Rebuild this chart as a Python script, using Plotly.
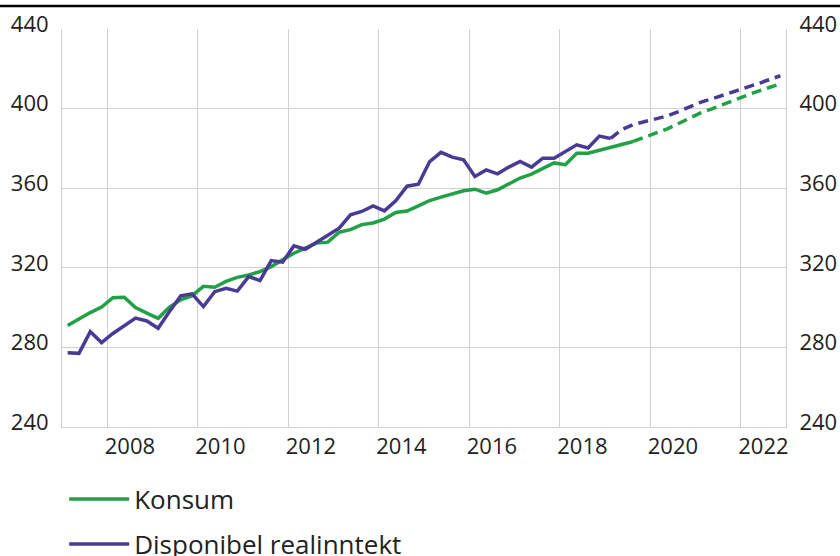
import plotly.graph_objects as go

# ---- data (quarterly, 2007K1 .. 2022K4) ----
start_year = 2007
quarters = [f"{start_year + k // 4}K{k % 4 + 1}" for k in range(64)]

konsum = [291.0, 294.5, 297.5, 300.3, 305.0, 305.2, 300.0, 297.2, 294.6, 300.3,
          303.9, 306.0, 310.7, 310.2, 313.2, 315.2, 316.4, 318.1, 320.6, 324.0,
          327.3, 329.9, 332.4, 332.9, 337.9, 339.2, 341.7, 342.5, 344.5, 347.8,
          348.5, 351.1, 353.8, 355.5, 357.2, 358.7, 359.5, 357.5, 359.2, 362.2,
          365.1, 367.1, 370.1, 372.7, 371.8, 377.6, 377.6, 379.0, 380.7, 382.0,
          383.5, 385.5, 387.5, 389.8, 392.5, 395.5, 398.0, 400.0, 402.3, 404.5,
          406.6, 408.7, 410.6, 412.4]
inntekt = [277.3, 277.0, 287.9, 282.4, 287.0, 290.8, 294.7, 293.3, 289.6, 298.0,
           305.9, 306.9, 300.5, 308.0, 309.7, 308.3, 315.6, 313.6, 323.6, 322.8,
           331.0, 329.3, 332.8, 336.5, 339.9, 346.6, 348.3, 351.1, 348.6, 353.7,
           361.0, 362.0, 373.4, 378.0, 375.6, 374.3, 365.9, 369.2, 367.2, 370.6,
           373.4, 370.6, 375.1, 375.1, 378.5, 381.8, 380.2, 386.2, 385.0, 389.5,
           392.0, 393.5, 395.0, 396.3, 398.5, 401.0, 403.3, 405.0, 406.8, 408.7,
           410.5, 412.5, 414.5, 416.5]
konsum_last_actual = "2019K3"
inntekt_last_actual = "2019K1"

y_ticks = [240, 280, 320, 360, 400, 440]
x_label_years = [2008, 2010, 2012, 2014, 2016, 2018, 2020, 2022]

# ---- helpers ----
def qpos(q):
    y, k = q.split("K")
    return int(y) + (int(k) - 0.5) / 4

xs = [qpos(q) for q in quarters]
GREEN = "#21a047"
PURPLE = "#4a3a96"
FONT = "Open Sans"

fig = go.Figure()

def add_series(name, vals, last_actual, color, group):
    cut = quarters.index(last_actual)
    fig.add_trace(go.Scatter(x=xs[:cut + 1], y=vals[:cut + 1], mode="lines", name=name,
                             line=dict(color=color, width=3.5), legendgroup=group))
    fig.add_trace(go.Scatter(x=xs[cut:], y=vals[cut:], mode="lines", name=name,
                             line=dict(color=color, width=3.5, dash="10px,6px"),
                             legendgroup=group, showlegend=False))

add_series("Konsum", konsum, konsum_last_actual, GREEN, "k")
add_series("Disponibel realinntekt", inntekt, inntekt_last_actual, PURPLE, "d")

# invisible trace to carry the right-hand axis
fig.add_trace(go.Scatter(x=xs, y=konsum, yaxis="y2", mode="lines", opacity=0,
                         showlegend=False, hoverinfo="skip"))

ML, MR, MT, MB = 62, 54, 29, 129
W, H = 840, 556
pw, ph = W - ML - MR, H - MT - MB

grid = "#cfcfcf"
tickfont = dict(family=FONT, size=22, color="#222222")

fig.update_layout(
    width=W, height=H,
    margin=dict(l=ML, r=MR, t=MT, b=MB, autoexpand=False),
    paper_bgcolor="white", plot_bgcolor="white",
    font=dict(family=FONT, color="#222222"),
    xaxis=dict(range=[start_year, start_year + 16], tickmode="array",
               tickvals=[y + 0.5 for y in x_label_years],
               ticktext=[str(y) for y in x_label_years],
               showgrid=False, zeroline=False, ticks="", tickfont=tickfont,
               showline=True, linecolor=grid, linewidth=1, automargin=False,
               minor=dict(tickmode="array", tickvals=x_label_years, showgrid=True,
                          gridcolor=grid, gridwidth=1, ticks="")),
    yaxis=dict(range=[240, 440], tickmode="array", tickvals=y_ticks,
               showgrid=True, gridcolor=grid, gridwidth=1, zeroline=False,
               ticks="", tickfont=tickfont, showline=True, linecolor=grid,
               linewidth=1, ticklabelstandoff=8, ticklabelshift=-5, automargin=False),
    yaxis2=dict(range=[240, 440], tickmode="array", tickvals=y_ticks,
                overlaying="y", side="right", showgrid=False, zeroline=False,
                ticks="", tickfont=tickfont, showline=True, linecolor=grid,
                linewidth=1, ticklabelstandoff=8, ticklabelshift=-5, automargin=False),
    legend=dict(x=0.003, xanchor="left", y=-0.1224, yanchor="top",
                orientation="v", traceorder="grouped", tracegroupgap=8,
                itemwidth=60, valign="bottom",
                font=dict(family=FONT, size=26, color="#222222"),
                bgcolor="rgba(0,0,0,0)"),
    showlegend=True,
)

# thick rule at the top of the figure
fig.add_shape(type="line", xref="paper", yref="paper",
              x0=-ML / pw, x1=1 + MR / pw,
              y0=1 + (MT - 6) / ph, y1=1 + (MT - 6) / ph,
              line=dict(color="black", width=2.5))

fig.write_html("out.html", config={"displayModeBar": False},
               post_script="document.body.style.margin='0';document.body.style.overflow='hidden';")
